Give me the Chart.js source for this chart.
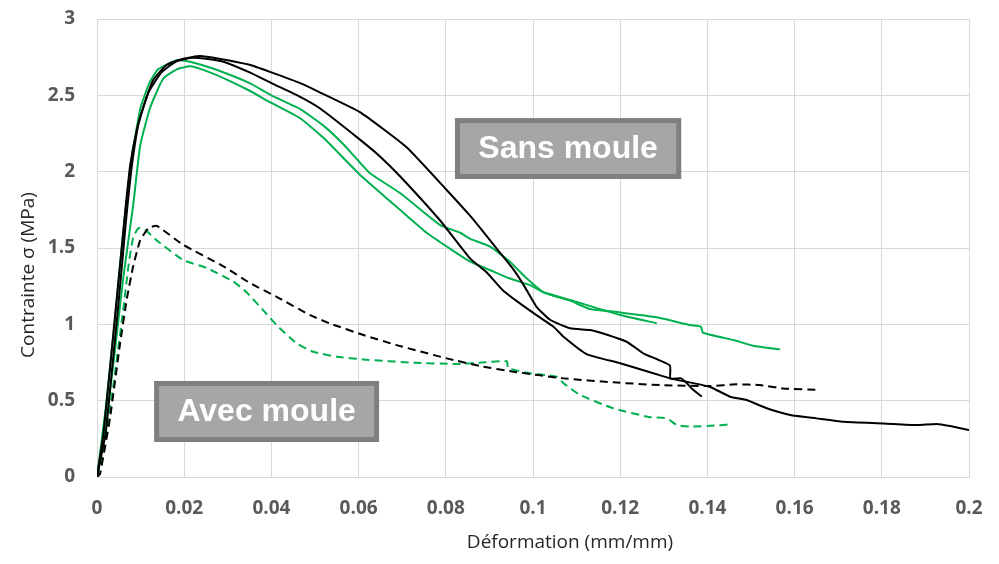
<!DOCTYPE html>
<html>
<head>
<meta charset="utf-8">
<script src="https://cdn.jsdelivr.net/npm/chart.js@4.4.1/dist/chart.umd.min.js"></script>
<style>
  html, body { margin: 0; padding: 0; background: #ffffff; }
  #wrap { width: 999px; height: 564px; }
</style>
</head>
<body>
<div id="wrap"><canvas id="c" width="999" height="564"></canvas></div>
<script>
// ---- Data ----
const xTickValues = [0, 0.02, 0.04, 0.06, 0.08, 0.1, 0.12, 0.14, 0.16, 0.18, 0.2];
const yTickValues = [0, 0.5, 1, 1.5, 2, 2.5, 3];

// Sans moule — black solid 1
const strainBlack1 = [0, 0.0015, 0.003, 0.0045, 0.006, 0.0066, 0.0076, 0.0091, 0.0106, 0.0129, 0.016, 0.0198, 0.0236, 0.0280, 0.035, 0.04, 0.0466, 0.0511, 0.0603, 0.071, 0.0802, 0.0856, 0.0882, 0.0924, 0.0955, 0.0978, 0.1008, 0.1039, 0.1085, 0.1131, 0.1161, 0.1215, 0.1253, 0.1314, 0.1315, 0.134, 0.1353, 0.1364, 0.1387];
const stressBlack1 = [0, 0.29, 0.72, 1.16, 1.6, 1.78, 2.04, 2.27, 2.42, 2.60, 2.70, 2.74, 2.757, 2.74, 2.70, 2.65, 2.58, 2.52, 2.39, 2.16, 1.88, 1.71, 1.62, 1.47, 1.36, 1.26, 1.115, 1.03, 0.974, 0.963, 0.94, 0.886, 0.81, 0.73, 0.646, 0.646, 0.614, 0.58, 0.526];

// Sans moule — black solid 2
const strainBlack2 = [0, 0.002, 0.0035, 0.005, 0.0064, 0.007, 0.008, 0.0095, 0.0118, 0.0148, 0.018, 0.0213, 0.025, 0.029, 0.035, 0.04, 0.0466, 0.0511, 0.0603, 0.0649, 0.0695, 0.0787, 0.0856, 0.0894, 0.0932, 0.097, 0.1008, 0.1047, 0.107, 0.1123, 0.12, 0.1276, 0.1314, 0.1406, 0.1452, 0.149, 0.1536, 0.159, 0.165, 0.1712, 0.1804, 0.188, 0.1926, 0.1956, 0.2];
const stressBlack2 = [0, 0.29, 0.72, 1.16, 1.6, 1.78, 2.04, 2.31, 2.52, 2.65, 2.72, 2.745, 2.74, 2.72, 2.65, 2.58, 2.49, 2.415, 2.21, 2.10, 1.97, 1.68, 1.43, 1.34, 1.22, 1.137, 1.06, 0.984, 0.919, 0.805, 0.745, 0.68, 0.646, 0.59, 0.526, 0.504, 0.45, 0.406, 0.384, 0.362, 0.351, 0.34, 0.347, 0.334, 0.308];

// Sans moule — green solid 1
const strainGreen1 = [0, 0.002, 0.004, 0.006, 0.008, 0.010, 0.012, 0.014, 0.0183, 0.0213, 0.025, 0.030, 0.035, 0.040, 0.0466, 0.052, 0.0565, 0.0603, 0.0626, 0.0695, 0.0787, 0.0833, 0.0856, 0.0901, 0.0947, 0.0986, 0.1024, 0.1085, 0.1131, 0.12, 0.1284, 0.136, 0.1385, 0.139, 0.146, 0.1505, 0.1567];
const stressGreen1 = [0, 0.45, 1.0, 1.6, 2.1, 2.42, 2.58, 2.67, 2.73, 2.72, 2.69, 2.64, 2.58, 2.50, 2.41, 2.3, 2.18, 2.06, 1.99, 1.86, 1.65, 1.60, 1.56, 1.51, 1.41, 1.30, 1.21, 1.155, 1.10, 1.078, 1.046, 0.995, 0.985, 0.945, 0.897, 0.86, 0.836];

// Sans moule — green solid 2
const strainGreen2 = [0, 0.002, 0.004, 0.006, 0.0083, 0.0099, 0.0122, 0.0152, 0.0183, 0.0213, 0.025, 0.030, 0.035, 0.040, 0.0466, 0.052, 0.0603, 0.0695, 0.0756, 0.0802, 0.0856, 0.0901, 0.0947, 0.0993, 0.1024, 0.1085, 0.12, 0.1284];
const stressGreen2 = [0, 0.35, 0.8, 1.3, 1.78, 2.17, 2.42, 2.61, 2.67, 2.69, 2.66, 2.60, 2.53, 2.45, 2.35, 2.22, 1.98, 1.75, 1.60, 1.51, 1.41, 1.356, 1.30, 1.257, 1.21, 1.16, 1.061, 1.007];

// Avec moule — black dashed
const strainBlackDash = [0, 0.0007, 0.003, 0.0053, 0.0068, 0.0083, 0.0099, 0.0118, 0.0137, 0.0198, 0.029, 0.0351, 0.0412, 0.0489, 0.0534, 0.0611, 0.0687, 0.0802, 0.0878, 0.0955, 0.107, 0.1184, 0.1291, 0.1406, 0.1467, 0.152, 0.1574, 0.1658];
const stressBlackDash = [0, 0.02, 0.39, 0.875, 1.16, 1.38, 1.55, 1.63, 1.645, 1.52, 1.38, 1.27, 1.18, 1.06, 1.006, 0.93, 0.864, 0.777, 0.727, 0.69, 0.646, 0.62, 0.602, 0.596, 0.607, 0.602, 0.58, 0.57];

// Avec moule — green dashed
const strainGreenDash = [0, 0.0011, 0.0037, 0.006, 0.0072, 0.0083, 0.0095, 0.011, 0.0137, 0.0198, 0.0251, 0.0313, 0.0343, 0.0382, 0.0412, 0.0458, 0.0496, 0.055, 0.0611, 0.0726, 0.0825, 0.0878, 0.094, 0.0943, 0.0993, 0.1054, 0.107, 0.1108, 0.1184, 0.1268, 0.1307, 0.133, 0.136, 0.1421, 0.1455];
const stressGreenDash = [0, 0.11, 0.59, 1.09, 1.38, 1.57, 1.63, 1.62, 1.55, 1.42, 1.37, 1.28, 1.21, 1.09, 0.995, 0.875, 0.82, 0.788, 0.77, 0.749, 0.74, 0.749, 0.758, 0.712, 0.68, 0.657, 0.614, 0.537, 0.45, 0.392, 0.384, 0.34, 0.33, 0.338, 0.345];

const xAxisTitle = 'Déformation (mm/mm)';
const yAxisTitle = 'Contrainte σ (MPa)';
const labelSans = 'Sans moule';
const labelAvec = 'Avec moule';

// ---- Build ----
const GREEN = '#00b050';
const BLACK = '#000000';
function pts(xs, ys) { return xs.map((x, i) => ({ x: x, y: ys[i] })); }
function ds(label, xs, ys, color, dashed) {
  return {
    label: label,
    data: pts(xs, ys),
    borderColor: color,
    backgroundColor: color,
    borderWidth: 2,
    borderDash: dashed ? [8, 5] : [],
    pointRadius: 0,
    tension: 0.15,
    fill: false
  };
}

const overlay = {
  id: 'overlay',
  afterDatasetsDraw(chart) {
    const ctx = chart.ctx;
    const xs = chart.scales.x, ys = chart.scales.y;
    function box(text, x0, y0, x1, y1) {
      const l = xs.getPixelForValue(x0), r = xs.getPixelForValue(x1);
      const t = ys.getPixelForValue(y0), b = ys.getPixelForValue(y1);
      ctx.save();
      ctx.fillStyle = '#7f7f7f';
      ctx.fillRect(l, t, r - l, b - t);
      ctx.fillStyle = '#a6a6a6';
      ctx.fillRect(l + 5, t + 5, r - l - 10, b - t - 10);
      ctx.fillStyle = '#ffffff';
      ctx.font = 'bold 32px "Liberation Sans", Arial, sans-serif';
      ctx.textAlign = 'center';
      ctx.textBaseline = 'middle';
      ctx.fillText(text, (l + r) / 2, (t + b) / 2 + 1);
      ctx.restore();
    }
    box(labelSans, 0.0821, 2.351, 0.134, 1.952);
    box(labelAvec, 0.0131, 0.629, 0.0647, 0.229);
  },
  afterDraw(chart) {
    const ctx = chart.ctx;
    ctx.save();
    ctx.fillStyle = '#262626';
    ctx.font = '19px "Open Sans", sans-serif';
    ctx.textAlign = 'center';
    ctx.textBaseline = 'middle';
    ctx.fillText(xAxisTitle, 570, 543);
    ctx.translate(29, 275);
    ctx.rotate(-Math.PI / 2);
    ctx.fillText(yAxisTitle, 0, 0);
    ctx.restore();
  }
};

const fmt = v => String(Number(v.toFixed(2)));

new Chart(document.getElementById('c'), {
  type: 'line',
  data: {
    datasets: [
      ds('Sans moule 1', strainBlack1, stressBlack1, BLACK, false),
      ds('Sans moule 2', strainBlack2, stressBlack2, BLACK, false),
      ds('Sans moule 3', strainGreen1, stressGreen1, GREEN, false),
      ds('Sans moule 4', strainGreen2, stressGreen2, GREEN, false),
      ds('Avec moule 1', strainBlackDash, stressBlackDash, BLACK, true),
      ds('Avec moule 2', strainGreenDash, stressGreenDash, GREEN, true)
    ]
  },
  options: {
    responsive: false,
    animation: false,
    devicePixelRatio: 1,
    layout: { padding: { top: 19, right: 30, left: 0, bottom: 0 } },
    plugins: { legend: { display: false }, tooltip: { enabled: false } },
    scales: {
      x: {
        type: 'linear',
        min: 0, max: 0.2,
        afterBuildTicks(scale) { scale.ticks = xTickValues.map(v => ({ value: v })); },
        afterFit(scale) { scale.height = 87; scale.paddingLeft = 0; scale.paddingRight = 0; },
        grid: { color: '#d9d9d9', lineWidth: 1, drawTicks: false },
        border: { color: '#d9d9d9' },
        ticks: {
          autoSkip: false, maxRotation: 0, padding: 20,
          color: '#595959',
          font: { family: '"Open Sans", sans-serif', size: 19, weight: 'bold' },
          callback: fmt
        }
      },
      y: {
        type: 'linear',
        min: 0, max: 3,
        afterBuildTicks(scale) { scale.ticks = yTickValues.map(v => ({ value: v })); },
        afterFit(scale) { scale.width = 97; scale.paddingTop = 0; scale.paddingBottom = 0; },
        grid: { color: '#d9d9d9', lineWidth: 1, drawTicks: false },
        border: { color: '#d9d9d9' },
        ticks: {
          padding: 22,
          color: '#595959',
          font: { family: '"Open Sans", sans-serif', size: 19, weight: 'bold' },
          callback: fmt
        }
      }
    }
  },
  plugins: [overlay]
});
</script>
</body>
</html>
